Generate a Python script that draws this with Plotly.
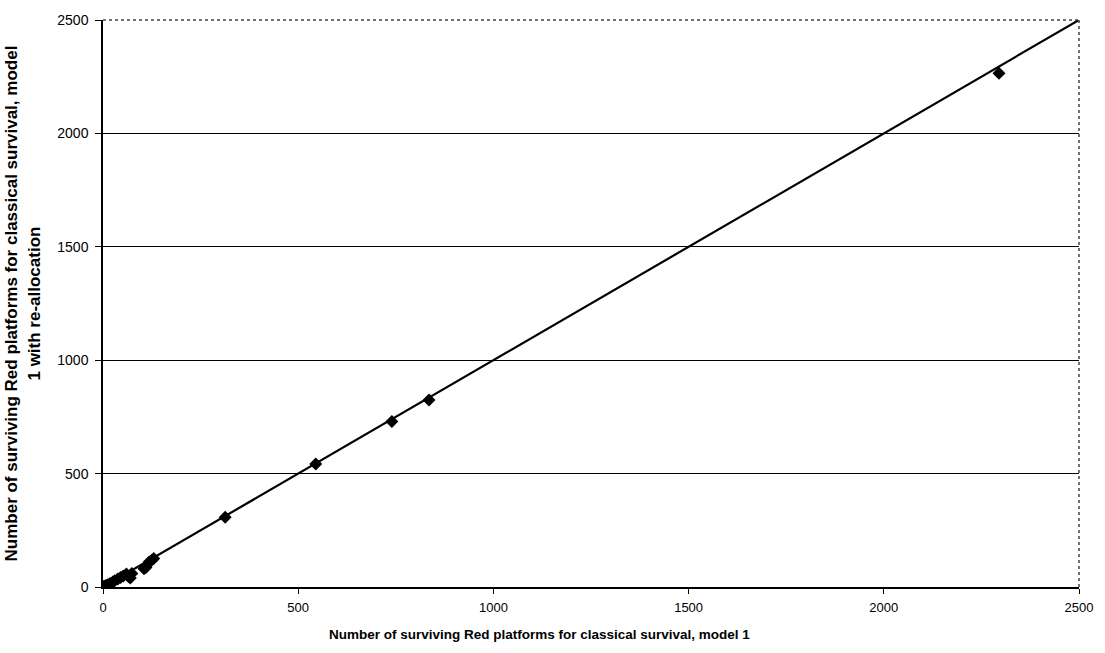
import plotly.graph_objects as go

# Surviving Red platforms: classical survival, model 1 (x) vs model 1 with re-allocation (y)
model1 = [0, 2, 5, 8, 12, 18, 25, 30, 38, 45, 52, 60, 66, 70, 74, 105, 110, 118, 124, 130,
          313, 545, 740, 835, 2295]
model1_realloc = [0, 2, 4, 7, 10, 15, 22, 28, 35, 42, 48, 57, 45, 40, 60, 80, 86, 110, 117, 126,
                  308, 542, 730, 825, 2265]

# Equality reference line y = x across the axis range
ref_line = [0, 2500]

x_ticks = [0, 500, 1000, 1500, 2000, 2500]
y_ticks = [0, 500, 1000, 1500, 2000, 2500]

x_title = "Number of surviving Red platforms for classical survival, model 1"
y_title = "Number of surviving Red platforms for classical survival, model<br>1 with re-allocation"

fig = go.Figure()

fig.add_trace(go.Scatter(
    x=ref_line, y=ref_line, mode="lines",
    line=dict(color="black", width=2.2),
    hoverinfo="skip", showlegend=False,
))

fig.add_trace(go.Scatter(
    x=model1, y=model1_realloc, mode="markers",
    marker=dict(symbol="diamond", size=10, color="black"),
    showlegend=False,
))

font_family = "Liberation Sans, Arial, sans-serif"

fig.update_layout(
    width=1105, height=653,
    margin=dict(l=103, r=16, t=14, b=66),
    paper_bgcolor="white", plot_bgcolor="white",
    font=dict(family=font_family, size=13, color="black"),
    xaxis=dict(
        range=[0, 2500], tickvals=x_ticks, ticktext=[str(v) for v in x_ticks],
        showgrid=False, zeroline=False,
        showline=True, linecolor="black", linewidth=1.5,
        ticks="outside", ticklen=5, tickcolor="black",
        tickfont=dict(size=13), ticklabelstandoff=3,
    ),
    yaxis=dict(
        range=[0, 2500], tickvals=y_ticks, ticktext=[str(v) for v in y_ticks],
        showgrid=True, gridcolor="black", gridwidth=1,
        zeroline=False,
        showline=True, linecolor="black", linewidth=1.5,
        ticks="outside", ticklen=6, tickcolor="black",
        tickfont=dict(size=14), ticklabelstandoff=4,
    ),
    annotations=[
        dict(text="<b>" + x_title + "</b>", xref="paper", yref="paper",
             x=0.447, y=-0.083, xanchor="center", yanchor="middle",
             showarrow=False, font=dict(size=13.5)),
        dict(text="<b>" + y_title + "</b>", xref="paper", yref="paper",
             x=-0.082, y=0.5, xanchor="center", yanchor="middle",
             textangle=-90, showarrow=False, font=dict(size=17)),
    ],
    shapes=[
        # dotted frame on the top and right of the plot area
        dict(type="line", xref="paper", yref="paper", x0=0, x1=1, y0=1, y1=1,
             line=dict(color="#444444", width=1.5, dash="dot")),
        dict(type="line", xref="paper", yref="paper", x0=1, x1=1, y0=0, y1=1,
             line=dict(color="#444444", width=1.5, dash="dot")),
    ],
)

fig.write_html("out.html")
